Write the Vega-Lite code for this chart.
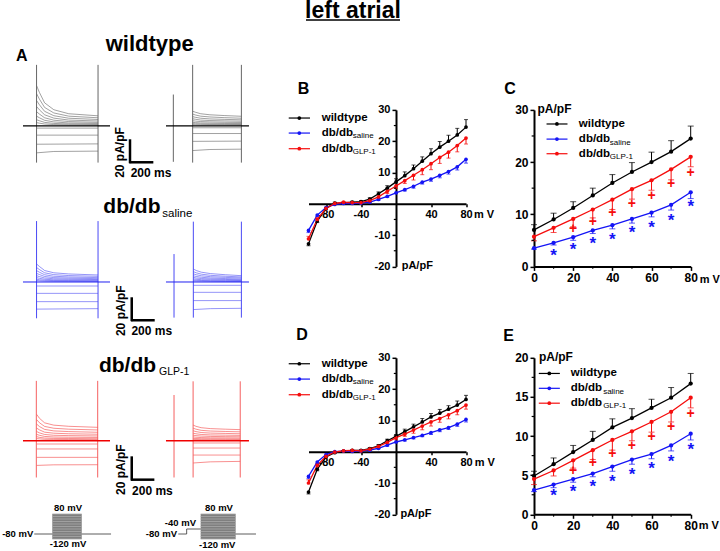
{
"$schema":"https://vega.github.io/schema/vega-lite/v6.json",
"padding":0,
"spacing":17.5,
"background":"white",
"data":{"values":[{}]},
"config":{"font":"Liberation Sans","view":{"stroke":null},"axis":{"grid":false,"domainColor":"#000","tickColor":"#000","labelColor":"#000","labelFontWeight":"bold","labelFont":"Liberation Sans","labelOverlap":false,"labelBound":false,"labelFlush":false},"text":{"fontWeight":"bold","baseline":"alphabetic","align":"left","color":"#000"}},
"datasets":{
"tw":[
{"k":"L1","t":318,"i":35},{"k":"L1","t":343,"i":29},{"k":"L1","t":388,"i":20},{"k":"L1","t":468,"i":14},{"k":"L1","t":598,"i":10.5},{"k":"L1","t":853,"i":8.7},
{"k":"L2","t":318,"i":28},{"k":"L2","t":343,"i":23.2},{"k":"L2","t":388,"i":16},{"k":"L2","t":468,"i":11.2},{"k":"L2","t":598,"i":8.4},{"k":"L2","t":853,"i":7},
{"k":"L3","t":318,"i":22},{"k":"L3","t":343,"i":18.3},{"k":"L3","t":388,"i":12.6},{"k":"L3","t":468,"i":8.8},{"k":"L3","t":598,"i":6.6},{"k":"L3","t":853,"i":5.5},
{"k":"L4","t":318,"i":16.8},{"k":"L4","t":343,"i":13.9},{"k":"L4","t":388,"i":9.6},{"k":"L4","t":468,"i":6.7},{"k":"L4","t":598,"i":5},{"k":"L4","t":853,"i":4.2},
{"k":"L5","t":318,"i":12.3},{"k":"L5","t":343,"i":10.2},{"k":"L5","t":388,"i":7},{"k":"L5","t":468,"i":4.9},{"k":"L5","t":598,"i":3.7},{"k":"L5","t":853,"i":3},
{"k":"L6","t":318,"i":8.4},{"k":"L6","t":343,"i":7},{"k":"L6","t":388,"i":4.8},{"k":"L6","t":468,"i":3.4},{"k":"L6","t":598,"i":2.5},{"k":"L6","t":853,"i":2.1},
{"k":"L7","t":318,"i":5.3},{"k":"L7","t":343,"i":4.4},{"k":"L7","t":388,"i":3},{"k":"L7","t":468,"i":2.1},{"k":"L7","t":598,"i":1.6},{"k":"L7","t":853,"i":1.3},
{"k":"L8","t":318,"i":2.8},{"k":"L8","t":343,"i":2.3},{"k":"L8","t":388,"i":1.6},{"k":"L8","t":468,"i":1.1},{"k":"L8","t":598,"i":0.8},{"k":"L8","t":853,"i":0.7},
{"k":"R1","t":1676,"i":12.7},{"k":"R1","t":1701,"i":11.8},{"k":"R1","t":1746,"i":10.5},{"k":"R1","t":1826,"i":9.6},{"k":"R1","t":1956,"i":8.9},{"k":"R1","t":2100,"i":8.3},
{"k":"R2","t":1676,"i":10.2},{"k":"R2","t":1701,"i":9.4},{"k":"R2","t":1746,"i":8.4},{"k":"R2","t":1826,"i":7.7},{"k":"R2","t":1956,"i":7.1},{"k":"R2","t":2100,"i":6.6},
{"k":"R3","t":1676,"i":8},{"k":"R3","t":1701,"i":7.4},{"k":"R3","t":1746,"i":6.6},{"k":"R3","t":1826,"i":6},{"k":"R3","t":1956,"i":5.6},{"k":"R3","t":2100,"i":5.2},
{"k":"R4","t":1676,"i":6.1},{"k":"R4","t":1701,"i":5.7},{"k":"R4","t":1746,"i":5},{"k":"R4","t":1826,"i":4.6},{"k":"R4","t":1956,"i":4.3},{"k":"R4","t":2100,"i":4},
{"k":"R5","t":1676,"i":4.4},{"k":"R5","t":1701,"i":4.1},{"k":"R5","t":1746,"i":3.7},{"k":"R5","t":1826,"i":3.4},{"k":"R5","t":1956,"i":3.1},{"k":"R5","t":2100,"i":2.9},
{"k":"R6","t":1676,"i":3},{"k":"R6","t":1701,"i":2.8},{"k":"R6","t":1746,"i":2.5},{"k":"R6","t":1826,"i":2.3},{"k":"R6","t":1956,"i":2.1},{"k":"R6","t":2100,"i":2},
{"k":"R7","t":1676,"i":1.9},{"k":"R7","t":1701,"i":1.8},{"k":"R7","t":1746,"i":1.6},{"k":"R7","t":1826,"i":1.4},{"k":"R7","t":1956,"i":1.3},{"k":"R7","t":2100,"i":1.2},
{"k":"R8","t":1676,"i":1},{"k":"R8","t":1701,"i":0.9},{"k":"R8","t":1746,"i":0.8},{"k":"R8","t":1826,"i":0.8},{"k":"R8","t":1956,"i":0.7},{"k":"R8","t":2100,"i":0.7},
{"k":"La","t":318,"i":-2},{"k":"La","t":853,"i":-2},{"k":"Lb","t":318,"i":-8.1},{"k":"Lb","t":853,"i":-8.1},{"k":"Lc","t":318,"i":-16},{"k":"Lc","t":853,"i":-15.7},{"k":"Ld","t":318,"i":-23.5},{"k":"Ld","t":468,"i":-22.3},{"k":"Ld","t":853,"i":-22},
{"k":"Ra","t":1676,"i":-1.7},{"k":"Ra","t":2100,"i":-1.7},{"k":"Rb","t":1676,"i":-6.7},{"k":"Rb","t":2100,"i":-6.7},{"k":"Rc","t":1676,"i":-13.5},{"k":"Rc","t":2100,"i":-13.3},{"k":"Rd","t":1676,"i":-21.5},{"k":"Rd","t":1826,"i":-20.6},{"k":"Rd","t":2100,"i":-20.3}
],
"ts":[
{"k":"L1","t":318,"i":15.7},{"k":"L1","t":343,"i":13.5},{"k":"L1","t":388,"i":10},{"k":"L1","t":468,"i":8},{"k":"L1","t":598,"i":7},{"k":"L1","t":853,"i":6.1},
{"k":"L2","t":318,"i":12.6},{"k":"L2","t":343,"i":10.8},{"k":"L2","t":388,"i":8},{"k":"L2","t":468,"i":6.4},{"k":"L2","t":598,"i":5.6},{"k":"L2","t":853,"i":4.9},
{"k":"L3","t":318,"i":9.9},{"k":"L3","t":343,"i":8.5},{"k":"L3","t":388,"i":6.3},{"k":"L3","t":468,"i":5},{"k":"L3","t":598,"i":4.4},{"k":"L3","t":853,"i":3.8},
{"k":"L4","t":318,"i":7.5},{"k":"L4","t":343,"i":6.5},{"k":"L4","t":388,"i":4.8},{"k":"L4","t":468,"i":3.8},{"k":"L4","t":598,"i":3.4},{"k":"L4","t":853,"i":2.9},
{"k":"L5","t":318,"i":5.5},{"k":"L5","t":343,"i":4.7},{"k":"L5","t":388,"i":3.5},{"k":"L5","t":468,"i":2.8},{"k":"L5","t":598,"i":2.5},{"k":"L5","t":853,"i":2.1},
{"k":"L6","t":318,"i":3.8},{"k":"L6","t":343,"i":3.2},{"k":"L6","t":388,"i":2.4},{"k":"L6","t":468,"i":1.9},{"k":"L6","t":598,"i":1.7},{"k":"L6","t":853,"i":1.5},
{"k":"L7","t":318,"i":2.4},{"k":"L7","t":343,"i":2},{"k":"L7","t":388,"i":1.5},{"k":"L7","t":468,"i":1.2},{"k":"L7","t":598,"i":1.1},{"k":"L7","t":853,"i":0.9},
{"k":"L8","t":318,"i":1.3},{"k":"L8","t":343,"i":1.1},{"k":"L8","t":388,"i":0.8},{"k":"L8","t":468,"i":0.6},{"k":"L8","t":598,"i":0.6},{"k":"L8","t":853,"i":0.5},
{"k":"R1","t":1682,"i":11.3},{"k":"R1","t":1707,"i":10},{"k":"R1","t":1752,"i":8.5},{"k":"R1","t":1832,"i":7.3},{"k":"R1","t":1962,"i":6.3},{"k":"R1","t":2100,"i":5.5},
{"k":"R2","t":1682,"i":9},{"k":"R2","t":1707,"i":8},{"k":"R2","t":1752,"i":6.8},{"k":"R2","t":1832,"i":5.8},{"k":"R2","t":1962,"i":5},{"k":"R2","t":2100,"i":4.4},
{"k":"R3","t":1682,"i":7.1},{"k":"R3","t":1707,"i":6.3},{"k":"R3","t":1752,"i":5.4},{"k":"R3","t":1832,"i":4.6},{"k":"R3","t":1962,"i":4},{"k":"R3","t":2100,"i":3.5},
{"k":"R4","t":1682,"i":5.4},{"k":"R4","t":1707,"i":4.8},{"k":"R4","t":1752,"i":4.1},{"k":"R4","t":1832,"i":3.5},{"k":"R4","t":1962,"i":3},{"k":"R4","t":2100,"i":2.6},
{"k":"R5","t":1682,"i":4},{"k":"R5","t":1707,"i":3.5},{"k":"R5","t":1752,"i":3},{"k":"R5","t":1832,"i":2.6},{"k":"R5","t":1962,"i":2.2},{"k":"R5","t":2100,"i":1.9},
{"k":"R6","t":1682,"i":2.7},{"k":"R6","t":1707,"i":2.4},{"k":"R6","t":1752,"i":2},{"k":"R6","t":1832,"i":1.8},{"k":"R6","t":1962,"i":1.5},{"k":"R6","t":2100,"i":1.3},
{"k":"R7","t":1682,"i":1.7},{"k":"R7","t":1707,"i":1.5},{"k":"R7","t":1752,"i":1.3},{"k":"R7","t":1832,"i":1.1},{"k":"R7","t":1962,"i":0.9},{"k":"R7","t":2100,"i":0.8},
{"k":"R8","t":1682,"i":0.9},{"k":"R8","t":1707,"i":0.8},{"k":"R8","t":1752,"i":0.7},{"k":"R8","t":1832,"i":0.6},{"k":"R8","t":1962,"i":0.5},{"k":"R8","t":2100,"i":0.4},
{"k":"La","t":318,"i":-3.5},{"k":"La","t":853,"i":-3.5},{"k":"Lb","t":318,"i":-9.9},{"k":"Lb","t":853,"i":-9.9},{"k":"Lc","t":318,"i":-17.1},{"k":"Lc","t":853,"i":-17.1},{"k":"Ld","t":318,"i":-23.6},{"k":"Ld","t":853,"i":-23.2},
{"k":"Ra","t":1682,"i":-2.9},{"k":"Ra","t":2100,"i":-2.9},{"k":"Rb","t":1682,"i":-9},{"k":"Rb","t":2100,"i":-9},{"k":"Rc","t":1682,"i":-16.2},{"k":"Rc","t":2100,"i":-16.2},{"k":"Rd","t":1682,"i":-24},{"k":"Rd","t":1832,"i":-23.2},{"k":"Rd","t":2100,"i":-22.9}
],
"tg":[
{"k":"L1","t":318,"i":23},{"k":"L1","t":343,"i":19.5},{"k":"L1","t":388,"i":15.5},{"k":"L1","t":468,"i":13.5},{"k":"L1","t":598,"i":12.5},{"k":"L1","t":853,"i":11.6},
{"k":"L2","t":318,"i":18.4},{"k":"L2","t":343,"i":15.6},{"k":"L2","t":388,"i":12.4},{"k":"L2","t":468,"i":10.8},{"k":"L2","t":598,"i":10},{"k":"L2","t":853,"i":9.3},
{"k":"L3","t":318,"i":14.5},{"k":"L3","t":343,"i":12.3},{"k":"L3","t":388,"i":9.8},{"k":"L3","t":468,"i":8.5},{"k":"L3","t":598,"i":7.9},{"k":"L3","t":853,"i":7.3},
{"k":"L4","t":318,"i":11},{"k":"L4","t":343,"i":9.4},{"k":"L4","t":388,"i":7.4},{"k":"L4","t":468,"i":6.5},{"k":"L4","t":598,"i":6},{"k":"L4","t":853,"i":5.6},
{"k":"L5","t":318,"i":8},{"k":"L5","t":343,"i":6.8},{"k":"L5","t":388,"i":5.4},{"k":"L5","t":468,"i":4.7},{"k":"L5","t":598,"i":4.4},{"k":"L5","t":853,"i":4.1},
{"k":"L6","t":318,"i":5.5},{"k":"L6","t":343,"i":4.7},{"k":"L6","t":388,"i":3.7},{"k":"L6","t":468,"i":3.2},{"k":"L6","t":598,"i":3},{"k":"L6","t":853,"i":2.8},
{"k":"L7","t":318,"i":3.5},{"k":"L7","t":343,"i":2.9},{"k":"L7","t":388,"i":2.3},{"k":"L7","t":468,"i":2},{"k":"L7","t":598,"i":1.9},{"k":"L7","t":853,"i":1.7},
{"k":"L8","t":318,"i":1.8},{"k":"L8","t":343,"i":1.6},{"k":"L8","t":388,"i":1.2},{"k":"L8","t":468,"i":1.1},{"k":"L8","t":598,"i":1},{"k":"L8","t":853,"i":0.9},
{"k":"R1","t":1680,"i":13.6},{"k":"R1","t":1705,"i":12.5},{"k":"R1","t":1750,"i":11.3},{"k":"R1","t":1830,"i":10.5},{"k":"R1","t":1960,"i":10},{"k":"R1","t":2090,"i":9.6},
{"k":"R2","t":1680,"i":10.9},{"k":"R2","t":1705,"i":10},{"k":"R2","t":1750,"i":9},{"k":"R2","t":1830,"i":8.4},{"k":"R2","t":1960,"i":8},{"k":"R2","t":2090,"i":7.7},
{"k":"R3","t":1680,"i":8.6},{"k":"R3","t":1705,"i":7.9},{"k":"R3","t":1750,"i":7.1},{"k":"R3","t":1830,"i":6.6},{"k":"R3","t":1960,"i":6.3},{"k":"R3","t":2090,"i":6},
{"k":"R4","t":1680,"i":6.5},{"k":"R4","t":1705,"i":6},{"k":"R4","t":1750,"i":5.4},{"k":"R4","t":1830,"i":5},{"k":"R4","t":1960,"i":4.8},{"k":"R4","t":2090,"i":4.6},
{"k":"R5","t":1680,"i":4.8},{"k":"R5","t":1705,"i":4.4},{"k":"R5","t":1750,"i":4},{"k":"R5","t":1830,"i":3.7},{"k":"R5","t":1960,"i":3.5},{"k":"R5","t":2090,"i":3.4},
{"k":"R6","t":1680,"i":3.3},{"k":"R6","t":1705,"i":3},{"k":"R6","t":1750,"i":2.7},{"k":"R6","t":1830,"i":2.5},{"k":"R6","t":1960,"i":2.4},{"k":"R6","t":2090,"i":2.3},
{"k":"R7","t":1680,"i":2},{"k":"R7","t":1705,"i":1.9},{"k":"R7","t":1750,"i":1.7},{"k":"R7","t":1830,"i":1.6},{"k":"R7","t":1960,"i":1.5},{"k":"R7","t":2090,"i":1.4},
{"k":"R8","t":1680,"i":1.1},{"k":"R8","t":1705,"i":1},{"k":"R8","t":1750,"i":0.9},{"k":"R8","t":1830,"i":0.8},{"k":"R8","t":1960,"i":0.8},{"k":"R8","t":2090,"i":0.8},
{"k":"La","t":318,"i":-2.9},{"k":"La","t":853,"i":-2.9},{"k":"Lb","t":318,"i":-7.2},{"k":"Lb","t":853,"i":-7.2},{"k":"Lc","t":318,"i":-14.5},{"k":"Lc","t":853,"i":-14.5},{"k":"Ld","t":318,"i":-21.5},{"k":"Ld","t":468,"i":-21},{"k":"Ld","t":853,"i":-20.9},
{"k":"Ra","t":1680,"i":-2},{"k":"Ra","t":2090,"i":-2},{"k":"Rb","t":1680,"i":-6.4},{"k":"Rb","t":2090,"i":-6.4},{"k":"Rc","t":1680,"i":-12.5},{"k":"Rc","t":2090,"i":-12.5},{"k":"Rd","t":1680,"i":-19.4},{"k":"Rd","t":1830,"i":-18.4},{"k":"Rd","t":2090,"i":-18}
],
"ew":[{"t":318,"hi":53,"lo":-32},{"t":853,"hi":53,"lo":-32},{"t":1676,"hi":53,"lo":-32},{"t":2100,"hi":53,"lo":-32},{"t":1508,"hi":27.2,"lo":-31.3}],
"es":[{"t":318,"hi":53,"lo":-31.6},{"t":853,"hi":53,"lo":-31.6},{"t":1682,"hi":52.5,"lo":-31},{"t":2100,"hi":52.5,"lo":-31},{"t":1514,"hi":24.3,"lo":-31}],
"eg":[{"t":316,"hi":52,"lo":-32},{"t":850,"hi":52,"lo":-32},{"t":1680,"hi":51.6,"lo":-32},{"t":2090,"hi":51.6,"lo":-32},{"t":1514,"hi":39.7,"lo":-32}],
"bases":[{"a":200,"b":957},{"a":1444,"b":2166}],
"iv1":[
{"g":"wildtype","v":-100,"y":-12.8,"e":-13.4},{"g":"wildtype","v":-90,"y":-5.5,"e":-6},{"g":"wildtype","v":-80,"y":-1.5,"e":-1.9},{"g":"wildtype","v":-70,"y":0.2,"e":0.5},{"g":"wildtype","v":-60,"y":0.3,"e":0.6},{"g":"wildtype","v":-50,"y":0.5,"e":0.8},{"g":"wildtype","v":-40,"y":0.7,"e":1},{"g":"wildtype","v":-30,"y":1.5,"e":1.9},{"g":"wildtype","v":-20,"y":3.2,"e":3.8},{"g":"wildtype","v":-10,"y":5,"e":5.8},{"g":"wildtype","v":0,"y":7,"e":8},{"g":"wildtype","v":10,"y":9,"e":10.2},{"g":"wildtype","v":20,"y":11.2,"e":12.4},{"g":"wildtype","v":30,"y":13.6,"e":15},{"g":"wildtype","v":40,"y":16,"e":17.6},{"g":"wildtype","v":50,"y":18.1,"e":19.9},{"g":"wildtype","v":60,"y":20,"e":21.9},{"g":"wildtype","v":70,"y":22,"e":24.1},{"g":"wildtype","v":80,"y":24.5,"e":26.9},
{"g":"db/db saline","v":-100,"y":-8.5,"e":-9.2},{"g":"db/db saline","v":-90,"y":-3.6,"e":-4},{"g":"db/db saline","v":-80,"y":-1.2,"e":-1.5},{"g":"db/db saline","v":-70,"y":-0.2,"e":-0.3},{"g":"db/db saline","v":-60,"y":0.1,"e":0},{"g":"db/db saline","v":-50,"y":0.1,"e":0},{"g":"db/db saline","v":-40,"y":0.2,"e":0.1},{"g":"db/db saline","v":-30,"y":0.5,"e":0.3},{"g":"db/db saline","v":-20,"y":1.4,"e":1.1},{"g":"db/db saline","v":-10,"y":2.4,"e":2},{"g":"db/db saline","v":0,"y":3.5,"e":3.3},{"g":"db/db saline","v":10,"y":4.5,"e":4.1},{"g":"db/db saline","v":20,"y":5.6,"e":5},{"g":"db/db saline","v":30,"y":6.9,"e":6.3},{"g":"db/db saline","v":40,"y":7.9,"e":7.2},{"g":"db/db saline","v":50,"y":9.1,"e":8.3},{"g":"db/db saline","v":60,"y":10.3,"e":9.5},{"g":"db/db saline","v":70,"y":11.8,"e":10.8},{"g":"db/db saline","v":80,"y":14.2,"e":13},
{"g":"db/db GLP-1","v":-100,"y":-11.2,"e":-10.4},{"g":"db/db GLP-1","v":-90,"y":-5,"e":-4.5},{"g":"db/db GLP-1","v":-80,"y":-1.5,"e":-1.2},{"g":"db/db GLP-1","v":-70,"y":0.1,"e":0},{"g":"db/db GLP-1","v":-60,"y":0.5,"e":0.3},{"g":"db/db GLP-1","v":-50,"y":0.4,"e":0.2},{"g":"db/db GLP-1","v":-40,"y":0.4,"e":0.2},{"g":"db/db GLP-1","v":-30,"y":1,"e":0.7},{"g":"db/db GLP-1","v":-20,"y":2.2,"e":1.8},{"g":"db/db GLP-1","v":-10,"y":4,"e":3.3},{"g":"db/db GLP-1","v":0,"y":5.7,"e":4.9},{"g":"db/db GLP-1","v":10,"y":7.4,"e":6.5},{"g":"db/db GLP-1","v":20,"y":9.1,"e":7.6},{"g":"db/db GLP-1","v":30,"y":10.9,"e":9.3},{"g":"db/db GLP-1","v":40,"y":12.8,"e":10.9},{"g":"db/db GLP-1","v":50,"y":14.8,"e":12.9},{"g":"db/db GLP-1","v":60,"y":16.5,"e":14.6},{"g":"db/db GLP-1","v":70,"y":18.6,"e":16.6},{"g":"db/db GLP-1","v":80,"y":21,"e":19.1}
],
"iv2":[
{"g":"wildtype","v":-100,"y":-12.9,"e":-13.5},{"g":"wildtype","v":-90,"y":-5.6,"e":-6.1},{"g":"wildtype","v":-80,"y":-1.7,"e":-2},{"g":"wildtype","v":-70,"y":-0.3,"e":-0.5},{"g":"wildtype","v":-60,"y":0.2,"e":0.4},{"g":"wildtype","v":-50,"y":0.4,"e":0.6},{"g":"wildtype","v":-40,"y":0.4,"e":0.6},{"g":"wildtype","v":-30,"y":1,"e":1.3},{"g":"wildtype","v":-20,"y":1.9,"e":2.3},{"g":"wildtype","v":-10,"y":3.5,"e":4},{"g":"wildtype","v":0,"y":4.9,"e":5.5},{"g":"wildtype","v":10,"y":6.4,"e":7.2},{"g":"wildtype","v":20,"y":7.95,"e":8.8},{"g":"wildtype","v":30,"y":9.5,"e":10.6},{"g":"wildtype","v":40,"y":11.1,"e":12.2},{"g":"wildtype","v":50,"y":12.3,"e":13.5},{"g":"wildtype","v":60,"y":13.6,"e":14.7},{"g":"wildtype","v":70,"y":14.9,"e":16.2},{"g":"wildtype","v":80,"y":16.7,"e":18},
{"g":"db/db saline","v":-100,"y":-7.9,"e":-8.6},{"g":"db/db saline","v":-90,"y":-3.3,"e":-3.7},{"g":"db/db saline","v":-80,"y":-0.9,"e":-1.2},{"g":"db/db saline","v":-70,"y":0,"e":-0.1},{"g":"db/db saline","v":-60,"y":0.2,"e":0.1},{"g":"db/db saline","v":-50,"y":0.1,"e":0},{"g":"db/db saline","v":-40,"y":0.2,"e":0.1},{"g":"db/db saline","v":-30,"y":0.5,"e":0.3},{"g":"db/db saline","v":-20,"y":1.1,"e":0.9},{"g":"db/db saline","v":-10,"y":2.1,"e":1.8},{"g":"db/db saline","v":0,"y":3.1,"e":2.9},{"g":"db/db saline","v":10,"y":3.8,"e":3.4},{"g":"db/db saline","v":20,"y":4.5,"e":4.1},{"g":"db/db saline","v":30,"y":5.2,"e":4.8},{"g":"db/db saline","v":40,"y":6.1,"e":5.5},{"g":"db/db saline","v":50,"y":7,"e":6.4},{"g":"db/db saline","v":60,"y":7.7,"e":7.1},{"g":"db/db saline","v":70,"y":8.8,"e":8.1},{"g":"db/db saline","v":80,"y":10.3,"e":9.5},
{"g":"db/db GLP-1","v":-100,"y":-10,"e":-9},{"g":"db/db GLP-1","v":-90,"y":-4.4,"e":-3.9},{"g":"db/db GLP-1","v":-80,"y":-1.5,"e":-1.2},{"g":"db/db GLP-1","v":-70,"y":-0.1,"e":-0.2},{"g":"db/db GLP-1","v":-60,"y":0.3,"e":0.1},{"g":"db/db GLP-1","v":-50,"y":0.4,"e":0.2},{"g":"db/db GLP-1","v":-40,"y":0.3,"e":0.1},{"g":"db/db GLP-1","v":-30,"y":0.8,"e":0.5},{"g":"db/db GLP-1","v":-20,"y":1.7,"e":1.4},{"g":"db/db GLP-1","v":-10,"y":3,"e":2.6},{"g":"db/db GLP-1","v":0,"y":4.5,"e":3.8},{"g":"db/db GLP-1","v":10,"y":5.6,"e":4.9},{"g":"db/db GLP-1","v":20,"y":6.9,"e":5.9},{"g":"db/db GLP-1","v":30,"y":8.2,"e":7},{"g":"db/db GLP-1","v":40,"y":9.5,"e":8.2},{"g":"db/db GLP-1","v":50,"y":10.6,"e":9.4},{"g":"db/db GLP-1","v":60,"y":11.8,"e":10.5},{"g":"db/db GLP-1","v":70,"y":13.1,"e":11.8},{"g":"db/db GLP-1","v":80,"y":14.9,"e":13.6}
],
"starsC":[{"v":10,"y":2.8},{"v":20,"y":3.9},{"v":30,"y":5.05},{"v":40,"y":5.9},{"v":50,"y":7.1},{"v":60,"y":8.1},{"v":70,"y":9.5},{"v":80,"y":12.1}],
"plusC":[{"v":20,"y":7.1},{"v":30,"y":8.5},{"v":40,"y":10.2},{"v":50,"y":12},{"v":60,"y":13.4},{"v":70,"y":15.8},{"v":80,"y":18}],
"starsE":[{"v":10,"y":2.8},{"v":20,"y":3.3},{"v":30,"y":4},{"v":40,"y":4.65},{"v":50,"y":5.55},{"v":60,"y":6.3},{"v":70,"y":7.2},{"v":80,"y":8.7}],
"plusE":[{"v":20,"y":5.5},{"v":30,"y":6.6},{"v":40,"y":7.65},{"v":50,"y":8.7},{"v":60,"y":9.9},{"v":70,"y":11.1},{"v":80,"y":12.8}],
"minorIV":[{"y":-15},{"y":-5},{"y":5},{"y":15},{"y":25}],
"minorC":[{"y":5},{"y":15},{"y":25}],
"minorE":[{"y":2.5},{"y":7.5},{"y":12.5},{"y":17.5}],
"minorX":[{"v":10},{"v":30},{"v":50},{"v":70}],
"steps":[{"m":-120},{"m":-100},{"m":-80},{"m":-60},{"m":-40},{"m":-20},{"m":0},{"m":20},{"m":40},{"m":60},{"m":80}],
"proto":[{"k":"a","t":298,"m":-80},{"k":"a","t":455,"m":-80},{"k":"b","t":711,"m":-80},{"k":"b","t":966,"m":-80},{"k":"c","t":1551,"m":-80},{"k":"c","t":1624,"m":-80},{"k":"c","t":1624,"m":-40},{"k":"c","t":1746,"m":-40},{"k":"d","t":2050,"m":-80},{"k":"d","t":2227,"m":-80}]
},
"hconcat":[
{"vconcat":[
{"width":270,"height":185.5,"layer":[
{"data":{"name":"tw"},"mark":{"type":"line","stroke":"#444","strokeWidth":0.5},"encoding":{"detail":{"field":"k"},"x":{"field":"t","type":"quantitative","scale":{"domain":[0,2349],"nice":false},"axis":null},"y":{"field":"i","type":"quantitative","scale":{"domain":[-54.5,106.8],"nice":false},"axis":null}}},
{"data":{"name":"ew"},"mark":{"type":"rule","stroke":"#666","strokeWidth":1},"encoding":{"x":{"field":"t","type":"quantitative","axis":null},"y":{"field":"hi","type":"quantitative","axis":null},"y2":{"field":"lo"}}},
{"data":{"name":"bases"},"mark":{"type":"rule","stroke":"#000","strokeWidth":1.2},"encoding":{"x":{"field":"a","type":"quantitative","axis":null},"x2":{"field":"b"},"y":{"datum":0,"axis":null}}},
{"mark":{"type":"rule","stroke":"#000","strokeWidth":2.5},"encoding":{"x":{"datum":1131,"axis":null},"y":{"datum":-11.7,"axis":null},"y2":{"datum":-32.5}}},
{"mark":{"type":"rule","stroke":"#000","strokeWidth":2.5},"encoding":{"x":{"datum":1125,"axis":null},"x2":{"datum":1334},"y":{"datum":-31.7,"axis":null}}},
{"mark":{"type":"text","text":"A","fontSize":16},"encoding":{"x":{"datum":139,"axis":null},"y":{"datum":56,"axis":null}}},
{"mark":{"type":"text","text":"wildtype","fontSize":22,"align":"center"},"encoding":{"x":{"datum":1302,"axis":null},"y":{"datum":64.9,"axis":null}}},
{"mark":{"type":"text","text":"200 ms","fontSize":12,"align":"center","baseline":"middle"},"encoding":{"x":{"datum":1314,"axis":null},"y":{"datum":-41.2,"axis":null}}},
{"mark":{"type":"text","text":"20 pA/pF","fontSize":12,"align":"center","baseline":"middle","angle":270},"encoding":{"x":{"datum":1044,"axis":null},"y":{"datum":-23.2,"axis":null}}}
]},
{"width":270,"height":160,"layer":[
{"data":{"name":"ts"},"mark":{"type":"line","stroke":"#2a2af0","strokeWidth":0.5},"encoding":{"detail":{"field":"k"},"x":{"field":"t","type":"quantitative","scale":{"domain":[0,2349],"nice":false},"axis":null},"y":{"field":"i","type":"quantitative","scale":{"domain":[-58.3,80.9],"nice":false},"axis":null}}},
{"data":{"name":"es"},"mark":{"type":"rule","stroke":"#4a4af5","strokeWidth":1},"encoding":{"x":{"field":"t","type":"quantitative","axis":null},"y":{"field":"hi","type":"quantitative","axis":null},"y2":{"field":"lo"}}},
{"data":{"name":"bases"},"mark":{"type":"rule","stroke":"#2020f0","strokeWidth":1},"encoding":{"x":{"field":"a","type":"quantitative","axis":null},"x2":{"field":"b"},"y":{"datum":0,"axis":null}}},
{"mark":{"type":"rule","stroke":"#000","strokeWidth":2.5},"encoding":{"x":{"datum":1146,"axis":null},"y":{"datum":-13.3,"axis":null},"y2":{"datum":-34.1}}},
{"mark":{"type":"rule","stroke":"#000","strokeWidth":2.5},"encoding":{"x":{"datum":1140,"axis":null},"x2":{"datum":1346},"y":{"datum":-33.3,"axis":null}}},
{"mark":{"type":"text","text":"db/db","fontSize":21},"encoding":{"x":{"datum":899,"axis":null},"y":{"datum":60,"axis":null}}},
{"mark":{"type":"text","text":"saline","fontSize":11.5,"fontWeight":"normal"},"encoding":{"x":{"datum":1412,"axis":null},"y":{"datum":56.3,"axis":null}}},
{"mark":{"type":"text","text":"200 ms","fontSize":12,"align":"center","baseline":"middle"},"encoding":{"x":{"datum":1320,"axis":null},"y":{"datum":-43,"axis":null}}},
{"mark":{"type":"text","text":"20 pA/pF","fontSize":12,"align":"center","baseline":"middle","angle":270},"encoding":{"x":{"datum":1050,"axis":null},"y":{"datum":-25,"axis":null}}}
]},
{"width":270,"height":150,"layer":[
{"data":{"name":"tg"},"mark":{"type":"line","stroke":"#f02020","strokeWidth":0.5},"encoding":{"detail":{"field":"k"},"x":{"field":"t","type":"quantitative","scale":{"domain":[0,2349],"nice":false},"axis":null},"y":{"field":"i","type":"quantitative","scale":{"domain":[-50.7,79.7],"nice":false},"axis":null}}},
{"data":{"name":"eg"},"mark":{"type":"rule","stroke":"#f56060","strokeWidth":1},"encoding":{"x":{"field":"t","type":"quantitative","axis":null},"y":{"field":"hi","type":"quantitative","axis":null},"y2":{"field":"lo"}}},
{"data":{"name":"bases"},"mark":{"type":"rule","stroke":"#f00000","strokeWidth":1.4},"encoding":{"x":{"field":"a","type":"quantitative","axis":null},"x2":{"field":"b"},"y":{"datum":0,"axis":null}}},
{"mark":{"type":"rule","stroke":"#000","strokeWidth":2.5},"encoding":{"x":{"datum":1146,"axis":null},"y":{"datum":-13.6,"axis":null},"y2":{"datum":-34.7}}},
{"mark":{"type":"rule","stroke":"#000","strokeWidth":2.5},"encoding":{"x":{"datum":1140,"axis":null},"x2":{"datum":1343},"y":{"datum":-33.9,"axis":null}}},
{"mark":{"type":"text","text":"db/db","fontSize":21},"encoding":{"x":{"datum":861,"axis":null},"y":{"datum":60,"axis":null}}},
{"mark":{"type":"text","text":"GLP-1","fontSize":10.5,"fontWeight":"normal"},"encoding":{"x":{"datum":1383,"axis":null},"y":{"datum":57,"axis":null}}},
{"mark":{"type":"text","text":"200 ms","fontSize":12,"align":"center","baseline":"middle"},"encoding":{"x":{"datum":1326,"axis":null},"y":{"datum":-43.5,"axis":null}}},
{"mark":{"type":"text","text":"20 pA/pF","fontSize":12,"align":"center","baseline":"middle","angle":270},"encoding":{"x":{"datum":1050,"axis":null},"y":{"datum":-25.2,"axis":null}}}
]},
{"width":270,"height":51,"layer":[
{"mark":{"type":"rect","fill":"#7f7f7f"},"encoding":{"x":{"datum":455,"scale":{"domain":[0,2349],"nice":false},"axis":null},"x2":{"datum":711},"y":{"datum":80,"scale":{"domain":[-208,200],"nice":false},"axis":null},"y2":{"datum":-120}}},
{"mark":{"type":"rect","fill":"#7f7f7f"},"encoding":{"x":{"datum":1746,"axis":null},"x2":{"datum":2050},"y":{"datum":80,"axis":null},"y2":{"datum":-120}}},
{"data":{"name":"steps"},"mark":{"type":"rule","stroke":"#a8a8a8","strokeWidth":0.8},"encoding":{"x":{"datum":455,"axis":null},"x2":{"datum":711},"y":{"field":"m","type":"quantitative","axis":null}}},
{"data":{"name":"steps"},"mark":{"type":"rule","stroke":"#a8a8a8","strokeWidth":0.8},"encoding":{"x":{"datum":1746,"axis":null},"x2":{"datum":2050},"y":{"field":"m","type":"quantitative","axis":null}}},
{"data":{"name":"proto"},"mark":{"type":"line","stroke":"#333","strokeWidth":0.8},"encoding":{"detail":{"field":"k"},"x":{"field":"t","type":"quantitative","axis":null},"y":{"field":"m","type":"quantitative","axis":null},"order":{"field":"t"}}},
{"mark":{"type":"text","text":"80 mV","fontSize":9.5,"align":"center","baseline":"middle"},"encoding":{"x":{"datum":592,"axis":null},"y":{"datum":128,"axis":null}}},
{"mark":{"type":"text","text":"-120 mV","fontSize":9.5,"align":"center","baseline":"middle"},"encoding":{"x":{"datum":592,"axis":null},"y":{"datum":-160,"axis":null}}},
{"mark":{"type":"text","text":"-80 mV","fontSize":9.5,"align":"right","baseline":"middle"},"encoding":{"x":{"datum":290,"axis":null},"y":{"datum":-80,"axis":null}}},
{"mark":{"type":"text","text":"80 mV","fontSize":9.5,"align":"center","baseline":"middle"},"encoding":{"x":{"datum":1905,"axis":null},"y":{"datum":128,"axis":null}}},
{"mark":{"type":"text","text":"-120 mV","fontSize":9.5,"align":"center","baseline":"middle"},"encoding":{"x":{"datum":1890,"axis":null},"y":{"datum":-164,"axis":null}}},
{"mark":{"type":"text","text":"-40 mV","fontSize":9.5,"align":"right","baseline":"middle"},"encoding":{"x":{"datum":1705,"axis":null},"y":{"datum":5,"axis":null}}},
{"mark":{"type":"text","text":"-80 mV","fontSize":9.5,"align":"right","baseline":"middle"},"encoding":{"x":{"datum":1540,"axis":null},"y":{"datum":-80,"axis":null}}}
]}
],"spacing":0,"bounds":"flush"},
{"concat":[
{"width":157.5,"height":15.2,"layer":[
{"mark":{"type":"text","text":"left atrial","fontSize":23,"align":"center"},"encoding":{"x":{"datum":44.5,"scale":{"domain":[0,157.5],"nice":false},"axis":null},"y":{"datum":15,"scale":{"domain":[15.2,0],"nice":false},"axis":null}}},
{"mark":{"type":"rule","stroke":"#000","strokeWidth":1.6},"encoding":{"x":{"datum":-2.5,"axis":null},"x2":{"datum":91.5},"y":{"datum":17,"axis":null}}}
]},
{"width":156.7,"height":15.2,"mark":{"type":"text","text":""},"encoding":{}},
{"width":157.5,"height":156.5,"layer":[
{"data":{"name":"iv1"},"encoding":{"x":{"field":"v","type":"quantitative","scale":{"domain":[-100,80],"nice":false},"axis":{"title":null,"offset":-62.6,"values":[-80,-40,40,80],"tickCount":20,"domainWidth":2,"tickWidth":1.5,"tickSize":3,"labelPadding":2,"labelFontSize":11,"labelOverlap":false,"labelExpr":"''+datum.value"}},"color":{"field":"g","type":"nominal","scale":{"domain":["wildtype","db/db saline","db/db GLP-1"],"range":["#000000","#1414f5","#f50d0d"]},"legend":null}},"layer":[
{"mark":{"type":"line","strokeWidth":1.3},"encoding":{"y":{"field":"y","type":"quantitative","scale":{"domain":[-20,30],"nice":false},"axis":{"title":null,"offset":-87.5,"values":[-20,-10,10,20,30],"tickCount":20,"domainWidth":2,"tickWidth":1.5,"tickSize":4,"labelFontSize":11,"labelPadding":2,"labelOverlap":false,"labelExpr":"''+datum.value"}}}},
{"mark":{"type":"rule","strokeWidth":1},"encoding":{"y":{"field":"y","type":"quantitative"},"y2":{"field":"e"}}},
{"mark":{"type":"tick","orient":"horizontal","size":4,"thickness":1},"encoding":{"y":{"field":"e","type":"quantitative"}}},
{"mark":{"type":"point","filled":true,"size":14,"opacity":1},"encoding":{"y":{"field":"y","type":"quantitative"}}}
]},
{"data":{"name":"minorIV"},"mark":{"type":"rule","stroke":"#000","strokeWidth":1.2},"encoding":{"x":{"datum":-2.5},"x2":{"datum":0},"y":{"field":"y","type":"quantitative","title":null}}},
{"mark":{"type":"rule","stroke":"#000000","strokeWidth":1.2},"encoding":{"x":{"datum":-122.6},"x2":{"datum":-98.3},"y":{"datum":27.4}}},
{"mark":{"type":"rule","stroke":"#1414f5","strokeWidth":1.2},"encoding":{"x":{"datum":-122.6},"x2":{"datum":-98.3},"y":{"datum":22.6}}},
{"mark":{"type":"rule","stroke":"#f50d0d","strokeWidth":1.2},"encoding":{"x":{"datum":-122.6},"x2":{"datum":-98.3},"y":{"datum":17.6}}},
{"mark":{"type":"point","filled":true,"color":"#000000","size":14,"opacity":1},"encoding":{"x":{"datum":-110.5},"y":{"datum":27.4}}},
{"mark":{"type":"point","filled":true,"color":"#1414f5","size":14,"opacity":1},"encoding":{"x":{"datum":-110.5},"y":{"datum":22.6}}},
{"mark":{"type":"point","filled":true,"color":"#f50d0d","size":14,"opacity":1},"encoding":{"x":{"datum":-110.5},"y":{"datum":17.6}}},
{"mark":{"type":"text","text":"wildtype","fontSize":11.5,"baseline":"middle"},"encoding":{"x":{"datum":-84.9},"y":{"datum":27.4}}},
{"mark":{"type":"text","text":"db/db","fontSize":11.5,"baseline":"middle"},"encoding":{"x":{"datum":-84.9},"y":{"datum":22.6}}},
{"mark":{"type":"text","text":"db/db","fontSize":11.5,"baseline":"middle"},"encoding":{"x":{"datum":-84.9},"y":{"datum":17.6}}},
{"mark":{"type":"text","text":"B","fontSize":16},"encoding":{"x":{"datum":-112.4},"y":{"datum":35}}},
{"mark":{"type":"text","text":"saline","fontSize":8,"fontWeight":"normal"},"encoding":{"x":{"datum":-49.5},"y":{"datum":21.1}}},
{"mark":{"type":"text","text":"GLP-1","fontSize":8,"fontWeight":"normal"},"encoding":{"x":{"datum":-49.5},"y":{"datum":16}}},
{"mark":{"type":"text","text":"m V","fontSize":11},"encoding":{"x":{"datum":89},"y":{"datum":-4.5}}},
{"mark":{"type":"text","text":"pA/pF","fontSize":11},"encoding":{"x":{"datum":6.5},"y":{"datum":-20.8}}}
]},
{"width":156.7,"height":156.5,"layer":[
{"data":{"name":"iv1"},"transform":[{"filter":"datum.v>=0"}],"encoding":{"x":{"field":"v","type":"quantitative","scale":{"domain":[0,80],"nice":false},"axis":{"title":null,"values":[0,20,40,60,80],"tickCount":20,"domainWidth":2,"tickWidth":1.5,"tickSize":4,"labelPadding":2,"labelFontSize":12,"labelOverlap":false,"labelExpr":"''+datum.value"}},"color":{"field":"g","type":"nominal","scale":{"domain":["wildtype","db/db saline","db/db GLP-1"],"range":["#000000","#1414f5","#f50d0d"]},"legend":null}},"layer":[
{"mark":{"type":"line","strokeWidth":1.3},"encoding":{"y":{"field":"y","type":"quantitative","scale":{"domain":[0,30],"nice":false},"axis":{"title":null,"values":[0,10,20,30],"tickCount":20,"domainWidth":2,"tickWidth":1.5,"tickSize":4,"labelFontSize":12,"labelPadding":2,"labelOverlap":false,"labelExpr":"''+datum.value"}}}},
{"mark":{"type":"rule","strokeWidth":1},"encoding":{"y":{"field":"y","type":"quantitative"},"y2":{"field":"e"}}},
{"mark":{"type":"tick","orient":"horizontal","size":6,"thickness":1},"encoding":{"y":{"field":"e","type":"quantitative"}}},
{"mark":{"type":"point","filled":true,"size":18,"opacity":1},"encoding":{"y":{"field":"y","type":"quantitative"}}}
]},
{"data":{"name":"minorC"},"mark":{"type":"rule","stroke":"#000","strokeWidth":1.2},"encoding":{"x":{"datum":-1.2},"x2":{"datum":0},"y":{"field":"y","type":"quantitative","title":null}}},
{"data":{"name":"minorX"},"mark":{"type":"rule","stroke":"#000","strokeWidth":1.2},"encoding":{"x":{"field":"v","type":"quantitative","title":null},"y":{"datum":0},"y2":{"datum":-0.45}}},
{"data":{"name":"starsC"},"mark":{"type":"text","text":"*","fontSize":17,"color":"#1414f5","align":"center","baseline":"middle","dy":4},"encoding":{"x":{"field":"v","type":"quantitative","title":null},"y":{"field":"y","type":"quantitative","title":null}}},
{"data":{"name":"plusC"},"mark":{"type":"text","text":"+","fontSize":14,"color":"#f50d0d","align":"center","baseline":"middle"},"encoding":{"x":{"field":"v","type":"quantitative","title":null},"y":{"field":"y","type":"quantitative","title":null}}},
{"mark":{"type":"rule","stroke":"#000000","strokeWidth":1.2},"encoding":{"x":{"datum":6.4},"x2":{"datum":17.1},"y":{"datum":27.3}}},
{"mark":{"type":"rule","stroke":"#1414f5","strokeWidth":1.2},"encoding":{"x":{"datum":6.4},"x2":{"datum":17.1},"y":{"datum":24.4}}},
{"mark":{"type":"rule","stroke":"#f50d0d","strokeWidth":1.2},"encoding":{"x":{"datum":6.4},"x2":{"datum":17.1},"y":{"datum":21.6}}},
{"mark":{"type":"point","filled":true,"color":"#000000","size":14,"opacity":1},"encoding":{"x":{"datum":11.7},"y":{"datum":27.3}}},
{"mark":{"type":"point","filled":true,"color":"#1414f5","size":14,"opacity":1},"encoding":{"x":{"datum":11.7},"y":{"datum":24.4}}},
{"mark":{"type":"point","filled":true,"color":"#f50d0d","size":14,"opacity":1},"encoding":{"x":{"datum":11.7},"y":{"datum":21.6}}},
{"mark":{"type":"text","text":"wildtype","fontSize":11.5,"baseline":"middle"},"encoding":{"x":{"datum":22.9},"y":{"datum":27.3}}},
{"mark":{"type":"text","text":"db/db","fontSize":11.5,"baseline":"middle"},"encoding":{"x":{"datum":22.9},"y":{"datum":24.4}}},
{"mark":{"type":"text","text":"db/db","fontSize":11.5,"baseline":"middle"},"encoding":{"x":{"datum":22.9},"y":{"datum":21.6}}},
{"mark":{"type":"text","text":"C","fontSize":16},"encoding":{"x":{"datum":-15.2},"y":{"datum":33}}},
{"mark":{"type":"text","text":"saline","fontSize":8,"fontWeight":"normal"},"encoding":{"x":{"datum":38.7},"y":{"datum":23.3}}},
{"mark":{"type":"text","text":"GLP-1","fontSize":8,"fontWeight":"normal"},"encoding":{"x":{"datum":38.7},"y":{"datum":20.5}}},
{"mark":{"type":"text","text":"m V","fontSize":11},"encoding":{"x":{"datum":84.6},"y":{"datum":-3.1}}},
{"mark":{"type":"text","text":"pA/pF","fontSize":12},"encoding":{"x":{"datum":1.8},"y":{"datum":29.4}}}
]},
{"width":157.5,"height":156.5,"layer":[
{"data":{"name":"iv2"},"encoding":{"x":{"field":"v","type":"quantitative","scale":{"domain":[-100,80],"nice":false},"axis":{"title":null,"offset":-62.6,"values":[-80,-40,40,80],"tickCount":20,"domainWidth":2,"tickWidth":1.5,"tickSize":3,"labelPadding":2,"labelFontSize":11,"labelOverlap":false,"labelExpr":"''+datum.value"}},"color":{"field":"g","type":"nominal","scale":{"domain":["wildtype","db/db saline","db/db GLP-1"],"range":["#000000","#1414f5","#f50d0d"]},"legend":null}},"layer":[
{"mark":{"type":"line","strokeWidth":1.3},"encoding":{"y":{"field":"y","type":"quantitative","scale":{"domain":[-20,30],"nice":false},"axis":{"title":null,"offset":-87.5,"values":[-20,-10,10,20,30],"tickCount":20,"domainWidth":2,"tickWidth":1.5,"tickSize":4,"labelFontSize":11,"labelPadding":2,"labelOverlap":false,"labelExpr":"''+datum.value"}}}},
{"mark":{"type":"rule","strokeWidth":1},"encoding":{"y":{"field":"y","type":"quantitative"},"y2":{"field":"e"}}},
{"mark":{"type":"tick","orient":"horizontal","size":4,"thickness":1},"encoding":{"y":{"field":"e","type":"quantitative"}}},
{"mark":{"type":"point","filled":true,"size":14,"opacity":1},"encoding":{"y":{"field":"y","type":"quantitative"}}}
]},
{"data":{"name":"minorIV"},"mark":{"type":"rule","stroke":"#000","strokeWidth":1.2},"encoding":{"x":{"datum":-2.5},"x2":{"datum":0},"y":{"field":"y","type":"quantitative","title":null}}},
{"mark":{"type":"rule","stroke":"#000000","strokeWidth":1.2},"encoding":{"x":{"datum":-122.6},"x2":{"datum":-98.3},"y":{"datum":28.1}}},
{"mark":{"type":"rule","stroke":"#1414f5","strokeWidth":1.2},"encoding":{"x":{"datum":-122.6},"x2":{"datum":-98.3},"y":{"datum":23.2}}},
{"mark":{"type":"rule","stroke":"#f50d0d","strokeWidth":1.2},"encoding":{"x":{"datum":-122.6},"x2":{"datum":-98.3},"y":{"datum":18.2}}},
{"mark":{"type":"point","filled":true,"color":"#000000","size":14,"opacity":1},"encoding":{"x":{"datum":-110.5},"y":{"datum":28.1}}},
{"mark":{"type":"point","filled":true,"color":"#1414f5","size":14,"opacity":1},"encoding":{"x":{"datum":-110.5},"y":{"datum":23.2}}},
{"mark":{"type":"point","filled":true,"color":"#f50d0d","size":14,"opacity":1},"encoding":{"x":{"datum":-110.5},"y":{"datum":18.2}}},
{"mark":{"type":"text","text":"wildtype","fontSize":11.5,"baseline":"middle"},"encoding":{"x":{"datum":-84.9},"y":{"datum":28.1}}},
{"mark":{"type":"text","text":"db/db","fontSize":11.5,"baseline":"middle"},"encoding":{"x":{"datum":-84.9},"y":{"datum":23.2}}},
{"mark":{"type":"text","text":"db/db","fontSize":11.5,"baseline":"middle"},"encoding":{"x":{"datum":-84.9},"y":{"datum":18.2}}},
{"mark":{"type":"text","text":"D","fontSize":16},"encoding":{"x":{"datum":-114},"y":{"datum":35.7}}},
{"mark":{"type":"text","text":"saline","fontSize":8,"fontWeight":"normal"},"encoding":{"x":{"datum":-49.5},"y":{"datum":21.7}}},
{"mark":{"type":"text","text":"GLP-1","fontSize":8,"fontWeight":"normal"},"encoding":{"x":{"datum":-49.5},"y":{"datum":16.6}}},
{"mark":{"type":"text","text":"m V","fontSize":11},"encoding":{"x":{"datum":90},"y":{"datum":-4.6}}},
{"mark":{"type":"text","text":"pA/pF","fontSize":11},"encoding":{"x":{"datum":5},"y":{"datum":-21}}}
]},
{"width":156.7,"height":156.5,"layer":[
{"data":{"name":"iv2"},"transform":[{"filter":"datum.v>=0"}],"encoding":{"x":{"field":"v","type":"quantitative","scale":{"domain":[0,80],"nice":false},"axis":{"title":null,"values":[0,20,40,60,80],"tickCount":20,"domainWidth":2,"tickWidth":1.5,"tickSize":4,"labelPadding":2,"labelFontSize":12,"labelOverlap":false,"labelExpr":"''+datum.value"}},"color":{"field":"g","type":"nominal","scale":{"domain":["wildtype","db/db saline","db/db GLP-1"],"range":["#000000","#1414f5","#f50d0d"]},"legend":null}},"layer":[
{"mark":{"type":"line","strokeWidth":1.3},"encoding":{"y":{"field":"y","type":"quantitative","scale":{"domain":[0,20],"nice":false},"axis":{"title":null,"values":[0,5,10,15,20],"tickCount":20,"domainWidth":2,"tickWidth":1.5,"tickSize":4,"labelFontSize":12,"labelPadding":2,"labelOverlap":false,"labelExpr":"''+datum.value"}}}},
{"mark":{"type":"rule","strokeWidth":1},"encoding":{"y":{"field":"y","type":"quantitative"},"y2":{"field":"e"}}},
{"mark":{"type":"tick","orient":"horizontal","size":6,"thickness":1},"encoding":{"y":{"field":"e","type":"quantitative"}}},
{"mark":{"type":"point","filled":true,"size":18,"opacity":1},"encoding":{"y":{"field":"y","type":"quantitative"}}}
]},
{"data":{"name":"minorE"},"mark":{"type":"rule","stroke":"#000","strokeWidth":1.2},"encoding":{"x":{"datum":-1.2},"x2":{"datum":0},"y":{"field":"y","type":"quantitative","title":null}}},
{"data":{"name":"minorX"},"mark":{"type":"rule","stroke":"#000","strokeWidth":1.2},"encoding":{"x":{"field":"v","type":"quantitative","title":null},"y":{"datum":0},"y2":{"datum":-0.3}}},
{"data":{"name":"starsE"},"mark":{"type":"text","text":"*","fontSize":17,"color":"#1414f5","align":"center","baseline":"middle","dy":4},"encoding":{"x":{"field":"v","type":"quantitative","title":null},"y":{"field":"y","type":"quantitative","title":null}}},
{"data":{"name":"plusE"},"mark":{"type":"text","text":"+","fontSize":14,"color":"#f50d0d","align":"center","baseline":"middle"},"encoding":{"x":{"field":"v","type":"quantitative","title":null},"y":{"field":"y","type":"quantitative","title":null}}},
{"mark":{"type":"rule","stroke":"#000000","strokeWidth":1.2},"encoding":{"x":{"datum":2.45},"x2":{"datum":13.2},"y":{"datum":18}}},
{"mark":{"type":"rule","stroke":"#1414f5","strokeWidth":1.2},"encoding":{"x":{"datum":2.45},"x2":{"datum":13.2},"y":{"datum":16.1}}},
{"mark":{"type":"rule","stroke":"#f50d0d","strokeWidth":1.2},"encoding":{"x":{"datum":2.45},"x2":{"datum":13.2},"y":{"datum":14.2}}},
{"mark":{"type":"point","filled":true,"color":"#000000","size":14,"opacity":1},"encoding":{"x":{"datum":7.8},"y":{"datum":18}}},
{"mark":{"type":"point","filled":true,"color":"#1414f5","size":14,"opacity":1},"encoding":{"x":{"datum":7.8},"y":{"datum":16.1}}},
{"mark":{"type":"point","filled":true,"color":"#f50d0d","size":14,"opacity":1},"encoding":{"x":{"datum":7.8},"y":{"datum":14.2}}},
{"mark":{"type":"text","text":"wildtype","fontSize":11.5,"baseline":"middle"},"encoding":{"x":{"datum":18.8},"y":{"datum":18}}},
{"mark":{"type":"text","text":"db/db","fontSize":11.5,"baseline":"middle"},"encoding":{"x":{"datum":18.8},"y":{"datum":16.1}}},
{"mark":{"type":"text","text":"db/db","fontSize":11.5,"baseline":"middle"},"encoding":{"x":{"datum":18.8},"y":{"datum":14.2}}},
{"mark":{"type":"text","text":"E","fontSize":16},"encoding":{"x":{"datum":-15.7},"y":{"datum":22.2}}},
{"mark":{"type":"text","text":"saline","fontSize":8,"fontWeight":"normal"},"encoding":{"x":{"datum":35.3},"y":{"datum":15.4}}},
{"mark":{"type":"text","text":"GLP-1","fontSize":8,"fontWeight":"normal"},"encoding":{"x":{"datum":35.3},"y":{"datum":13.6}}},
{"mark":{"type":"text","text":"m V","fontSize":11},"encoding":{"x":{"datum":84.1},"y":{"datum":-1.9}}},
{"mark":{"type":"text","text":"pA/pF","fontSize":12},"encoding":{"x":{"datum":2.5},"y":{"datum":19.6}}}
]}
],"columns":2,"spacing":{"row":90.9,"column":67.5},"bounds":"flush"}
]
}
